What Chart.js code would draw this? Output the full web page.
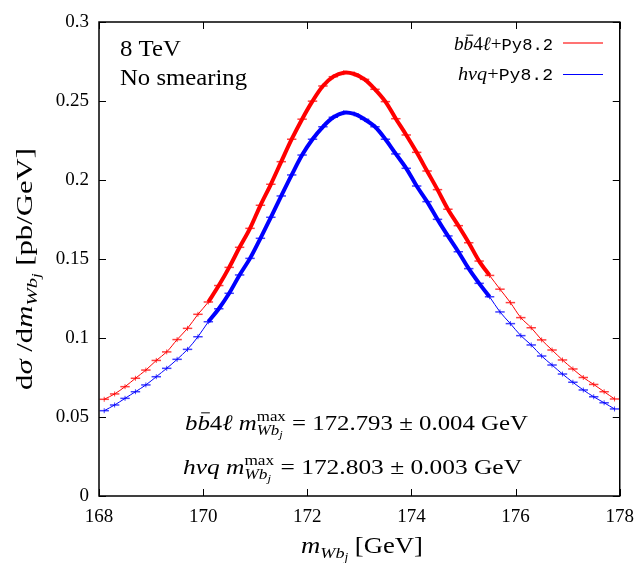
<!DOCTYPE html>
<html lang="en">
<head>
<meta charset="UTF-8">
<title>m_Wbj peak</title>
<script src="https://cdn.jsdelivr.net/npm/chart.js"></script>
<style>
  body { margin: 0; background: #fff; }
  #wrap { width: 644px; height: 563px; }
</style>
</head>
<body>
<div id="wrap"><canvas id="grafico" width="644" height="563"></canvas></div>
<script>
  // bin centres (GeV), 0.2 GeV bins
  const massBins = [168.1, 168.3, 168.5, 168.7, 168.9, 169.1, 169.3, 169.5, 169.7, 169.9,
                    170.1, 170.3, 170.5, 170.7, 170.9, 171.1, 171.3, 171.5, 171.7, 171.9,
                    172.1, 172.3, 172.5, 172.7, 172.9, 173.1, 173.3, 173.5, 173.7, 173.9,
                    174.1, 174.3, 174.5, 174.7, 174.9, 175.1, 175.3, 175.5, 175.7, 175.9,
                    176.1, 176.3, 176.5, 176.7, 176.9, 177.1, 177.3, 177.5, 177.7, 177.9];
  const binWidth = 0.2;

  // dsigma/dm in pb/GeV
  const bb4lValues = [0.0612, 0.0646, 0.0692, 0.0745, 0.0797, 0.0858, 0.0912, 0.0990, 0.1061, 0.1150,
                      0.1228, 0.1332, 0.1447, 0.1574, 0.1694, 0.1840, 0.1973, 0.2116, 0.2258, 0.2385,
                      0.2499, 0.2595, 0.2654, 0.2679, 0.2671, 0.2637, 0.2574, 0.2496, 0.2388, 0.2285,
                      0.2175, 0.2057, 0.1939, 0.1815, 0.1711, 0.1603, 0.1487, 0.1396, 0.1309, 0.1224,
                      0.1129, 0.1065, 0.0988, 0.0924, 0.0861, 0.0804, 0.0750, 0.0706, 0.0660, 0.0614];
  const hvqValues  = [0.0540, 0.0576, 0.0618, 0.0660, 0.0703, 0.0755, 0.0808, 0.0865, 0.0928, 0.1008,
                      0.1103, 0.1185, 0.1283, 0.1399, 0.1504, 0.1631, 0.1764, 0.1899, 0.2032, 0.2158,
                      0.2258, 0.2337, 0.2397, 0.2426, 0.2418, 0.2384, 0.2337, 0.2258, 0.2165, 0.2074,
                      0.1962, 0.1863, 0.1751, 0.1646, 0.1546, 0.1439, 0.1346, 0.1261, 0.1165, 0.1091,
                      0.1015, 0.0956, 0.0886, 0.0829, 0.0772, 0.0720, 0.0671, 0.0628, 0.0590, 0.0551];

  const fitRange = [170.1, 175.5];
  const xTicks = [168, 170, 172, 174, 176, 178];
  const yTicks = [0, 0.05, 0.1, 0.15, 0.2, 0.25, 0.3];

  const RED = '#ff0000';
  const BLUE = '#0000ff';
  const RM = s => s + 'px "Liberation Serif"';
  const IT = s => 'italic ' + s + 'px "Liberation Serif"';
  const TT = s => s + 'px "Liberation Mono"';

  function pontos(vals) {
    return massBins.map((m, i) => ({ x: m, y: vals[i] }));
  }
  function pontosFit(vals) {
    return pontos(vals).filter(p => p.x >= fitRange[0] - 1e-6 && p.x <= fitRange[1] + 1e-6);
  }

  // --- texto com fontes misturadas ---
  function larg(ctx, r) {
    if (r.group) return Math.max(...r.group.map(g => g.reduce((s, q) => s + larg(ctx, q), 0)));
    ctx.font = r.f;
    return ctx.measureText(r.t).width + (r.sp || 0);
  }
  function desenhaRun(ctx, r, x, y) {
    if (r.group) {
      r.group.forEach(g => {
        let xx = x;
        g.forEach(q => { desenhaRun(ctx, q, xx, y); xx += larg(ctx, q); });
      });
      return;
    }
    ctx.font = r.f;
    ctx.fillText(r.t, x, y + (r.dy || 0));
    if (r.bar) {
      const w = ctx.measureText(r.t).width;
      ctx.save();
      ctx.strokeStyle = '#000';
      ctx.lineWidth = 1;
      ctx.beginPath();
      ctx.moveTo(x + w * 0.3, y + (r.dy || 0) - r.bar);
      ctx.lineTo(x + w * 1.0, y + (r.dy || 0) - r.bar);
      ctx.stroke();
      ctx.restore();
    }
  }
  // w = largura alvo (estica na horizontal para imitar a fonte do original)
  function texto(ctx, runs, x, y, align, w) {
    const natural = runs.reduce((s, r) => s + larg(ctx, r), 0);
    const total = w || natural;
    const sx = total / natural;
    const x0 = align === 'right' ? x - total : align === 'center' ? x - total / 2 : x;
    ctx.save();
    ctx.translate(x0, y);
    ctx.scale(sx, 1);
    let xx = 0;
    runs.forEach(r => { desenhaRun(ctx, r, xx, 0); xx += larg(ctx, r); });
    ctx.restore();
  }
  function bb4l(s) {
    return [{ t: 'b', f: IT(s) }, { t: 'b', f: IT(s), bar: s * 0.78 }, { t: '4', f: RM(s) }, { t: 'ℓ', f: IT(s) }];
  }
  function mWbj(s, comMax) {
    const sub = [{ t: 'W', f: IT(s * 0.68), dy: s * 0.22 }, { t: 'b', f: IT(s * 0.68), dy: s * 0.22 },
                 { t: 'j', f: IT(s * 0.5), dy: s * 0.36 }];
    const runs = [{ t: 'm', f: IT(s) }];
    if (comMax) runs.push({ group: [[{ t: 'max', f: RM(s * 0.68), dy: -s * 0.42 }], sub] });
    else sub.forEach(q => runs.push(q));
    return runs;
  }

  const moldura = {
    id: 'moldura',
    afterDatasetsDraw(chart) {
      const ctx = chart.ctx;
      const a = chart.chartArea;
      const xs = chart.scales.x, ys = chart.scales.y;

      // barras de erro (horizontal = largura do bin)
      [[bb4lValues, 'rgba(255,0,0,0.75)'], [hvqValues, 'rgba(0,0,255,0.75)']].forEach(([vals, cor]) => {
        ctx.save();
        ctx.strokeStyle = cor;
        massBins.forEach((m, i) => {
          const x1 = xs.getPixelForValue(m - binWidth / 2);
          const x2 = xs.getPixelForValue(m + binWidth / 2);
          const xc = xs.getPixelForValue(m);
          const y = ys.getPixelForValue(vals[i]);
          ctx.lineWidth = 1.5;
          ctx.beginPath(); ctx.moveTo(x1 + 0.5, y); ctx.lineTo(x2 - 0.5, y); ctx.stroke();
          ctx.lineWidth = 1;
          ctx.beginPath(); ctx.moveTo(xc, y - 2.5); ctx.lineTo(xc, y + 2.5); ctx.stroke();
        });
        ctx.restore();
      });

      // moldura e ticks para dentro
      ctx.save();
      ctx.strokeStyle = '#000';
      ctx.lineWidth = 1.5;
      ctx.strokeRect(a.left, a.top, a.right - a.left, a.bottom - a.top);
      ctx.lineWidth = 1;
      const tl = 7;
      xTicks.forEach(v => {
        const x = Math.round(xs.getPixelForValue(v)) + 0.5;
        ctx.beginPath();
        ctx.moveTo(x, a.bottom); ctx.lineTo(x, a.bottom - tl);
        ctx.moveTo(x, a.top); ctx.lineTo(x, a.top + tl);
        ctx.stroke();
      });
      yTicks.forEach(v => {
        const y = Math.round(ys.getPixelForValue(v)) + 0.5;
        ctx.beginPath();
        ctx.moveTo(a.left, y); ctx.lineTo(a.left + tl, y);
        ctx.moveTo(a.right, y); ctx.lineTo(a.right - tl, y);
        ctx.stroke();
      });

      ctx.fillStyle = '#000';
      ctx.textAlign = 'left';
      ctx.textBaseline = 'alphabetic';

      // etiquetas no canto
      texto(ctx, [{ t: '8 TeV', f: RM(23) }], 120, 56, 'left', 61);
      texto(ctx, [{ t: 'No smearing', f: RM(23) }], 120, 85, 'left', 127);

      // legenda
      texto(ctx, bb4l(19).concat([{ t: '+', f: RM(19) }, { t: 'Py8.2', f: TT(17) }]), 553, 50, 'right', 99);
      texto(ctx, [{ t: 'hvq', f: IT(19) }, { t: '+', f: RM(19) }, { t: 'Py8.2', f: TT(17) }], 553, 80, 'right', 95);
      ctx.lineWidth = 2;
      ctx.strokeStyle = 'rgba(255,0,0,0.55)';
      ctx.beginPath(); ctx.moveTo(563, 43); ctx.lineTo(603, 43); ctx.stroke();
      ctx.lineWidth = 1;
      ctx.strokeStyle = BLUE;
      ctx.beginPath(); ctx.moveTo(563, 74.5); ctx.lineTo(603, 74.5); ctx.stroke();
      ctx.strokeStyle = '#000';

      // resultados do ajuste
      texto(ctx, bb4l(22).concat([{ t: ' ', f: RM(22) }], mWbj(22, true),
            [{ t: ' = 172.793 ± 0.004 GeV', f: RM(22) }]), 185, 430, 'left', 343);
      texto(ctx, [{ t: 'hvq ', f: IT(22) }].concat(mWbj(22, true),
            [{ t: ' = 172.803 ± 0.003 GeV', f: RM(22) }]), 183, 474, 'left', 339);

      // titulos dos eixos
      texto(ctx, mWbj(23, false).concat([{ t: ' [GeV]', f: RM(23) }]), 362, 553, 'center', 122);
      ctx.translate(32, 269);
      ctx.rotate(-Math.PI / 2);
      texto(ctx, [{ t: 'd', f: RM(23) }, { t: 'σ', f: IT(23) }, { t: ' /d', f: RM(23) }]
            .concat(mWbj(23, false), [{ t: ' [pb/GeV]', f: RM(23) }]), 0, 0, 'center', 242);
      ctx.restore();
    }
  };

  const ctx = document.getElementById('grafico');
  new Chart(ctx, {
    type: 'line',
    data: {
      datasets: [
        { label: 'bb4l fit', data: pontosFit(bb4lValues), borderColor: RED, borderWidth: 4, pointRadius: 0, tension: 0.35 },
        { label: 'hvq fit', data: pontosFit(hvqValues), borderColor: BLUE, borderWidth: 4, pointRadius: 0, tension: 0.35 },
        { label: 'bb4l+Py8.2', data: pontos(bb4lValues), borderColor: RED, borderWidth: 1, pointRadius: 0, tension: 0.35 },
        { label: 'hvq+Py8.2', data: pontos(hvqValues), borderColor: BLUE, borderWidth: 1, pointRadius: 0, tension: 0.35 }
      ]
    },
    options: {
      responsive: false,
      animation: false,
      layout: { padding: { top: 22, right: 24, left: 0, bottom: 0 } },
      plugins: { legend: { display: false }, tooltip: { enabled: false } },
      scales: {
        x: {
          type: 'linear', min: 168, max: 178,
          afterBuildTicks: s => { s.ticks = xTicks.map(v => ({ value: v })); },
          afterFit: s => { s.height = 67; },
          grid: { display: false, drawTicks: false },
          border: { display: false },
          ticks: { color: '#000', padding: 10, font: { family: 'Liberation Serif', size: 19 }, maxRotation: 0 }
        },
        y: {
          min: 0, max: 0.3,
          afterBuildTicks: s => { s.ticks = yTicks.map(v => ({ value: v })); },
          afterFit: s => { s.width = 99; },
          grid: { display: false, drawTicks: false },
          border: { display: false },
          ticks: { color: '#000', padding: 10, font: { family: 'Liberation Serif', size: 19 },
                   callback: v => String(+Number(v).toFixed(2)) }
        }
      }
    },
    plugins: [moldura]
  });
</script>
</body>
</html>
